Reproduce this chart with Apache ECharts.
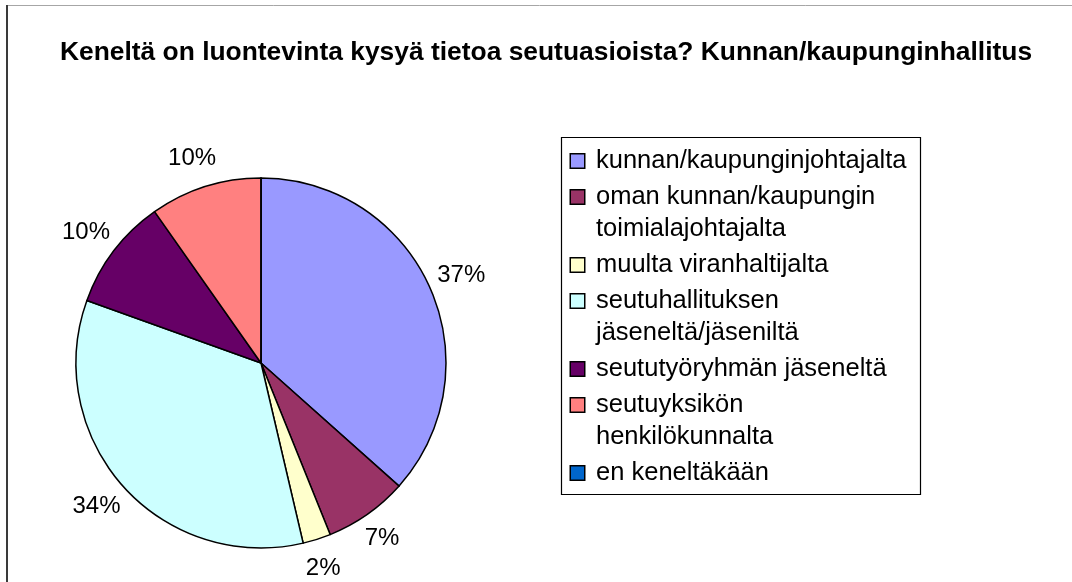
<!DOCTYPE html>
<html>
<head>
<meta charset="utf-8">
<script src="https://cdn.jsdelivr.net/npm/echarts@6/dist/echarts.min.js"></script>
<style>
html,body{margin:0;padding:0;background:#fff;}
#chart{width:1072px;height:582px;}
</style>
</head>
<body>
<div id="chart"></div>
<script>
const titleText = 'Keneltä on luontevinta kysyä tietoa seutuasioista? Kunnan/kaupunginhallitus';
const categories = [
  'kunnan/kaupunginjohtajalta',
  'oman kunnan/kaupungin toimialajohtajalta',
  'muulta viranhaltijalta',
  'seutuhallituksen jäseneltä/jäseniltä',
  'seututyöryhmän jäseneltä',
  'seutuyksikön henkilökunnalta',
  'en keneltäkään'
];
const legendLines = [
  ['kunnan/kaupunginjohtajalta'],
  ['oman kunnan/kaupungin', 'toimialajohtajalta'],
  ['muulta viranhaltijalta'],
  ['seutuhallituksen', 'jäseneltä/jäseniltä'],
  ['seututyöryhmän jäseneltä'],
  ['seutuyksikön', 'henkilökunnalta'],
  ['en keneltäkään']
];
const counts = [15, 3, 1, 14, 4, 4, 0];
const colors = ['#9999FF', '#993366', '#FFFFCC', '#CCFFFF', '#660066', '#FF8080', '#0066CC'];

const FONT = '"Liberation Sans", Arial, sans-serif';
const LH = 32;

const rich = {
  g: { width: 12, height: 12, lineHeight: LH },
  i: { width: 25, height: 12, lineHeight: LH },
  t: { fontSize: 25.5, lineHeight: LH, color: '#000', fontFamily: FONT, verticalAlign: 'middle' }
};
colors.forEach((c, k) => {
  rich['s' + k] = {
    width: 13, height: 13, lineHeight: LH, backgroundColor: c,
    borderColor: '#000', borderWidth: 1.5, verticalAlign: 'middle'
  };
});

const chart = echarts.init(document.getElementById('chart'), null, { renderer: 'canvas' });
chart.setOption({
  animation: false,
  backgroundColor: '#fff',
  color: colors,
  title: {
    text: titleText,
    left: 541,
    textAlign: 'center',
    top: 35,
    textStyle: { fontFamily: FONT, fontSize: 26.4, fontWeight: 'bold', color: '#000' }
  },
  legend: {
    orient: 'vertical',
    left: 561,
    top: 137,
    padding: [8, 10, 4, 3],
    itemGap: 4,
    itemWidth: 1,
    itemHeight: 1,
    selectedMode: false,
    itemStyle: { opacity: 0 },
    data: categories,
    formatter: function (name) {
      const k = categories.indexOf(name);
      const lines = legendLines[k];
      return lines.map((ln, j) => (j === 0 ? '{s' + k + '|}{g|}' : '{i|}') + '{t|' + ln + '}').join('\n');
    },
    textStyle: { rich: rich, fontSize: 25.5, lineHeight: LH, fontFamily: FONT, color: '#000' }
  },
  graphic: [
    { type: 'line', shape: { x1: 7, y1: 5.5, x2: 1072, y2: 5.5 }, style: { stroke: '#a6a6a6', lineWidth: 1 }, silent: true },
    { type: 'line', shape: { x1: 7, y1: 5, x2: 7, y2: 582 }, style: { stroke: '#3a3a3a', lineWidth: 2 }, silent: true },
    { type: 'rect', shape: { x: 561.5, y: 137.5, width: 359, height: 357 }, style: { fill: 'none', stroke: '#000', lineWidth: 1.2 }, silent: true }
  ],
  series: [{
    type: 'pie',
    center: [261, 363],
    radius: 185,
    startAngle: 90,
    clockwise: true,
    avoidLabelOverlap: false,
    silent: true,
    emphasis: { disabled: true },
    itemStyle: { borderColor: '#000', borderWidth: 1.5 },
    label: {
      show: true,
      position: 'outside',
      distanceToLabelLine: -20,
      fontFamily: FONT,
      fontSize: 24,
      color: '#000',
      formatter: function (p) { return p.value ? Math.round(p.percent) + '%' : ''; }
    },
    labelLine: { show: false, length: 30, length2: 0 },
    data: categories.map((c, k) => ({ name: c, value: counts[k] }))
  }]
});
</script>
</body>
</html>
